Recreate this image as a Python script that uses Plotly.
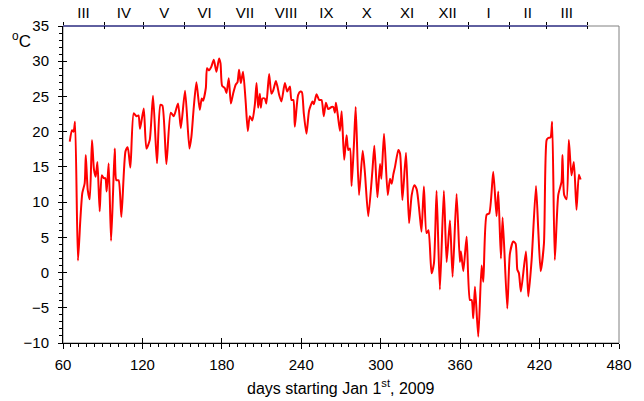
import plotly.graph_objects as go

days = [65.1, 66.8, 68.0, 69.1, 71.3, 73.1, 74.6, 76.4, 77.2, 78.7, 80.2, 81.9, 83.4, 84.7, 86.0, 87.7,
        89.3, 90.8, 92.0, 93.0, 94.5, 96.3, 97.8, 99.1, 100.3, 102.0, 104.1, 107.2, 108.9, 110.9, 113.4,
        115.5, 117.0, 118.2, 121.0, 123.0, 125.5, 128.0, 131.0, 133.6, 135.1, 138.1, 141.4, 143.7, 146.9,
        149.0, 152.2, 155.5, 157.0, 158.8, 160.8, 163.3, 164.8, 165.8, 167.9, 168.8, 170.3, 172.0, 173.9,
        175.9, 177.9, 179.0, 180.2, 182.2, 183.5, 185.2, 186.8, 188.5, 190.5, 191.8, 193.0, 194.3, 196.0,
        197.9, 199.6, 201.1, 203.0, 204.9, 206.2, 207.4, 208.7, 209.4, 210.6, 212.4, 213.6, 215.7, 217.4,
        218.7, 220.8, 222.0, 223.3, 225.0, 227.6, 229.4, 231.4, 232.6, 234.0, 235.1, 237.6, 239.4, 240.5,
        241.9, 243.9, 245.9, 248.5, 249.5, 251.5, 253.5, 255.3, 257.0, 258.6, 260.4, 262.9, 264.2, 265.4,
        266.2, 267.5, 269.2, 270.5, 272.4, 274.2, 275.5, 276.8, 278.0, 279.8, 281.1, 283.6, 286.4, 288.1,
        290.6, 293.7, 295.2, 297.5, 299.5, 300.5, 302.5, 305.3, 307.0, 308.3, 309.5, 310.8, 313.3, 314.6,
        316.4, 319.1, 321.4, 323.4, 325.4, 327.2, 329.2, 330.8, 332.6, 334.6, 336.1, 338.4, 340.2, 342.2,
        344.7, 347.7, 349.8, 352.3, 354.3, 357.3, 359.8, 360.6, 362.4, 364.9, 367.4, 368.7, 369.9, 371.2,
        373.7, 376.2, 377.5, 380.0, 382.0, 385.0, 387.5, 388.8, 390.8, 392.1, 395.6, 397.6, 400.1, 401.9,
        403.2, 404.4, 405.9, 409.7, 411.5, 414.0, 417.3, 419.0, 420.8, 423.3, 425.3, 426.5, 428.3, 429.5,
        431.5, 434.1, 436.6, 437.3, 438.6, 440.4, 442.1, 444.1, 445.9, 447.9, 449.7, 451.0]

temps = [18.6, 20.2, 20.0, 21.4, 1.7, 7.5, 11.3, 12.7, 16.7, 11.7, 10.4, 18.8, 14.6, 13.6, 15.7, 8.7,
         13.8, 13.4, 13.4, 11.5, 15.5, 4.5, 11.3, 17.6, 13.1, 13.1, 7.9, 17.2, 17.8, 14.9, 22.6,
         22.2, 22.3, 20.4, 23.3, 17.6, 18.8, 25.1, 15.5, 23.8, 23.7, 15.4, 22.7, 22.2, 24.0,
         20.5, 25.8, 17.6, 19.3, 23.5, 27.0, 23.1, 24.7, 24.4, 26.2, 29.0, 28.7, 29.2, 30.2,
         28.5, 30.4, 29.7, 26.5, 26.2, 25.5, 27.6, 24.0, 25.4, 26.7, 27.0, 28.8, 26.9, 28.5,
         24.5, 20.1, 22.2, 21.6, 23.8, 26.9, 23.4, 25.4, 23.4, 24.7, 24.7, 24.0, 28.2, 25.4,
         25.8, 27.2, 26.4, 25.2, 24.3, 26.9, 25.7, 26.4, 24.5, 24.5, 20.7, 25.2, 25.7, 25.6,
         22.6, 19.7, 23.0, 24.3, 23.9, 25.3, 24.5, 24.5, 22.2, 24.1, 23.2, 23.5, 23.5, 22.7,
         24.1, 22.5, 20.1, 22.9, 16.0, 19.5, 17.4, 17.6, 12.3, 18.3, 23.5, 11.0, 17.3, 14.1,
         8.0, 14.4, 18.0, 10.7, 15.4, 13.3, 19.7, 11.0, 13.3, 12.6, 13.9, 15.0, 17.4, 16.9,
         10.3, 17.0, 7.0, 11.0, 12.4, 11.8, 8.7, 5.8, 12.2, 5.6, 6.0, -0.1, 1.3, 11.6,
         -2.4, 11.6, 1.5, 7.4, -0.6, 11.15, 1.5, 3.0, 0.2, 5.1, -3.9, -3.9, -6.5, -2.0,
         -9.1, 1.0, -1.3, 8.2, 8.4, 14.3, 8.0, 11.5, 2.0, 7.8, -5.1, 2.7, 4.4, 4.1,
         0.4, -0.1, -2.7, 3.0, -3.4, 1.8, 12.3, 6.1, 0.2, 4.1, 18.8, 19.1, 19.2, 21.4,
         1.8, 11.0, 12.9, 16.7, 11.0, 10.4, 18.8, 13.8, 15.7, 8.9, 13.9, 13.2]

x_ticks = [60, 120, 180, 240, 300, 360, 420, 480]
y_ticks = [-10, -5, 0, 5, 10, 15, 20, 25, 30, 35]
month_starts = [60, 91, 121, 152, 182, 213, 244, 274, 305, 335, 366, 397, 425, 456]
month_labels = ["III", "IV", "V", "VI", "VII", "VIII", "IX", "X", "XI", "XII", "I", "II", "III"]
month_mids = [(a + b) / 2 for a, b in zip(month_starts[:-1], month_starts[1:])]

FONT = "Liberation Sans, Arial, sans-serif"
TF = 15

fig = go.Figure()
fig.add_trace(go.Scatter(x=days, y=temps, mode="lines",
                         line=dict(color="#FF0000", width=2, shape="spline", smoothing=0.6),
                         showlegend=False, hoverinfo="skip"))
# helper invisible traces so overlay axes render
for xa, ya in [("x2", "y"), ("x3", "y"), ("x4", "y"), ("x", "y2")]:
    fig.add_trace(go.Scatter(x=[None], y=[None], xaxis=xa, yaxis=ya, mode="lines",
                             showlegend=False, hoverinfo="skip"))

xr = [60, 480]
yr = [-10, 35]
common = dict(showgrid=False, zeroline=False, range=xr, fixedrange=True, automargin=False)

fig.update_layout(
    width=644, height=401,
    margin=dict(l=63, r=25, t=26, b=58),
    paper_bgcolor="white", plot_bgcolor="white",
    font=dict(family=FONT, size=TF, color="black"),
    xaxis=dict(**common, tickmode="array", tickvals=x_ticks, ticks="outside", ticklen=5,
               tickcolor="black", tickwidth=1, showline=True, linecolor="black", linewidth=1,
               tickfont=dict(size=TF), ticklabelstandoff=3,
               minor=dict(tick0=60, dtick=6, ticks="outside", ticklen=3, tickcolor="black", tickwidth=1)),
    xaxis3=dict(**common, overlaying="x", anchor="y", side="bottom", tickmode="array",
                tickvals=x_ticks, ticks="inside", ticklen=5, tickcolor="black",
                showticklabels=False, showline=False),
    xaxis2=dict(**common, overlaying="x", anchor="y", side="top", tickmode="array",
                tickvals=month_mids, ticktext=month_labels, ticks="", showline=False,
                tickfont=dict(size=TF), ticklabelstandoff=4,
                minor=dict(tickmode="array", tickvals=month_starts, ticks="outside", ticklen=3,
                           tickcolor="black", tickwidth=1)),
    xaxis4=dict(**common, overlaying="x", anchor="y", side="top", tickmode="array",
                tickvals=month_starts, ticks="inside", ticklen=3, tickcolor="black",
                showticklabels=False, showline=False),
    yaxis=dict(range=yr, tickmode="array", tickvals=y_ticks, ticks="outside", ticklen=4,
               tickcolor="black", showline=True, linecolor="black", linewidth=1,
               showgrid=False, zeroline=False, fixedrange=True, tickfont=dict(size=TF),
               ticklabelstandoff=6, automargin=False,
               minor=dict(tick0=-10, dtick=1, ticks="outside", ticklen=3, tickcolor="black")),
    yaxis2=dict(range=yr, overlaying="y", anchor="x", side="left", tickmode="array",
                tickvals=y_ticks, ticks="inside", ticklen=4, tickcolor="black",
                showticklabels=False, showline=False, showgrid=False, zeroline=False,
                fixedrange=True, automargin=False),
)

# gray frame
fig.add_shape(type="rect", xref="paper", yref="paper", x0=0, x1=1, y0=0, y1=1,
              line=dict(color="#808080", width=1), layer="below")
# blue top line over the months
fig.add_shape(type="line", xref="x", yref="paper", x0=month_starts[0], x1=month_starts[-1],
              y0=1, y1=1, line=dict(color="#000080", width=1))

fig.add_annotation(text="<sup>o</sup>C", xref="paper", yref="paper", x=-0.074, y=0.955,
                   xanchor="center", yanchor="middle", showarrow=False,
                   font=dict(size=17, family=FONT, color="black"))
fig.add_annotation(text="days starting Jan 1<sup>st</sup>, 2009", xref="paper", yref="paper",
                   x=0.5, y=-0.14, xanchor="center", yanchor="middle", showarrow=False,
                   font=dict(size=16, family=FONT, color="black"))

fig.write_html("out.html")
